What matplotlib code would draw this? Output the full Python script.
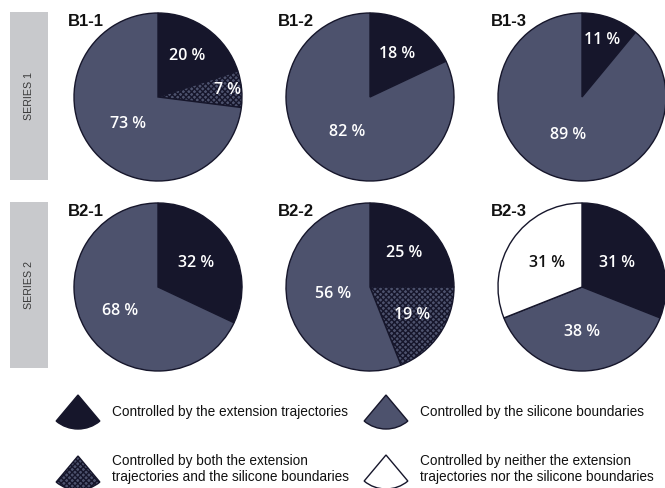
import matplotlib
matplotlib.use("Agg")
import matplotlib.pyplot as plt
from matplotlib.patches import Wedge, Rectangle
import numpy as np

# ---- data -------------------------------------------------------------
panel_titles = ["B1-1", "B1-2", "B1-3", "B2-1", "B2-2", "B2-3"]
series_labels = ["SERIES 1", "SERIES 2"]

# category of each wedge: 0 trajectories, 1 silicone, 2 both, 3 neither
panel_categories = [
    [0, 2, 1],
    [0, 1],
    [0, 1],
    [0, 1],
    [0, 2, 1],
    [0, 1, 3],
]
panel_values = [
    [20, 7, 73],
    [18, 82],
    [11, 89],
    [32, 68],
    [25, 19, 56],
    [31, 38, 31],
]
legend_labels = [
    "Controlled by the extension trajectories",
    "Controlled by the silicone boundaries",
    "Controlled by both the extension\ntrajectories and the silicone boundaries",
    "Controlled by neither the extension\ntrajectories nor the silicone boundaries",
]

# ---- style ------------------------------------------------------------
DARK = "#16162b"
SLATE = "#4d526d"
WHITE = "#ffffff"
face_colors = [DARK, SLATE, SLATE, WHITE]
hatches = [None, None, "xxxxxx", None]
text_colors = ["white", "white", "white", "#111111"]

text_font = "Liberation Sans"
label_font = "Open Sans"

plt.rcParams["hatch.linewidth"] = 1.0

W, H = 665, 488
fig = plt.figure(figsize=(W / 100, H / 100), dpi=100)
fig.patch.set_facecolor("white")

# full-figure overlay in pixel units (y measured from the top)
overlay = fig.add_axes([0, 0, 1, 1])
overlay.set_xlim(0, W)
overlay.set_ylim(H, 0)
overlay.axis("off")

centers_x = [158, 370, 582]
centers_y = [97, 287]
radius = 84
label_dist = [
    [0.60, 0.83, 0.48],
    [0.60, 0.50],
    [0.72, 0.48],
    [0.53, 0.53],
    [0.58, 0.60, 0.45],
    [0.50, 0.54, 0.50],
]

for i in range(6):
    row, col = divmod(i, 3)
    cx, cy = centers_x[col], centers_y[row]
    pad = 1.03
    ax = fig.add_axes([(cx - radius * pad) / W, 1 - (cy + radius * pad) / H,
                       2 * radius * pad / W, 2 * radius * pad / H])
    cats = panel_categories[i]
    vals = panel_values[i]
    wedges, _ = ax.pie(vals, startangle=90, counterclock=False,
                       colors=[face_colors[c] for c in cats],
                       wedgeprops=dict(edgecolor=DARK, linewidth=1.0))
    for w, c in zip(wedges, cats):
        if hatches[c]:
            w.set_hatch(hatches[c])
    for w, c, v, d in zip(wedges, cats, vals, label_dist[i]):
        mid = np.deg2rad((w.theta1 + w.theta2) / 2)
        ax.text(d * np.cos(mid), d * np.sin(mid), f"{v} %", ha="center", va="center",
                color=text_colors[c], fontsize=11.5, fontfamily=label_font,
                fontweight="semibold")
    ax.set_xlim(-pad, pad)
    ax.set_ylim(-pad, pad)
    ax.axis("off")

    tx = [68, 278, 491][col]
    ty = [22, 212][row]
    overlay.text(tx, ty, panel_titles[i], ha="left", va="center", fontsize=12,
                 fontfamily=text_font, fontweight="bold", color="#111111")

# grey side bands with series names
for r, (y0, y1) in enumerate([(12, 180), (202, 368)]):
    overlay.add_patch(Rectangle((10, y0), 38, y1 - y0, facecolor="#c8c9cc",
                                edgecolor="none"))
    overlay.text(29, (y0 + y1) / 2, series_labels[r], rotation=90, ha="center",
                 va="center", fontsize=7.7, fontfamily=text_font, color="#3a3a3a")

# legend: sector-shaped keys
legend_pos = [(78, 395, 112, 412), (386, 395, 420, 412),
              (78, 456, 112, 469), (386, 455, 420, 469)]
for k, (ax0, ay0, tx, ty) in enumerate(legend_pos):
    key = Wedge((ax0, ay0), 34, 50, 130, facecolor=face_colors[k],
                edgecolor=DARK, linewidth=1.0, hatch=hatches[k])
    overlay.add_patch(key)
    overlay.text(tx, ty, legend_labels[k], ha="left", va="center", fontsize=9.8,
                 fontfamily=text_font, color="#111111", linespacing=1.2)

fig.savefig("out.png", dpi=100, facecolor="white")
